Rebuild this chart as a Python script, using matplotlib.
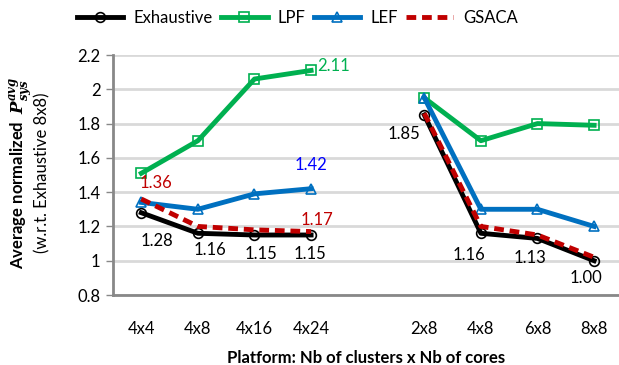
import numpy as np
import matplotlib
matplotlib.use('Agg')
import matplotlib.pyplot as plt

plt.rcParams['font.family'] = ['Lato', 'DejaVu Sans']
plt.rcParams['mathtext.fontset'] = 'custom'
plt.rcParams['mathtext.bf'] = 'DejaVu Serif:italic:bold'

platforms = ['4x4', '4x8', '4x16', '4x24', '', '2x8', '4x8', '6x8', '8x8']
exhaustive = [1.28, 1.16, 1.15, 1.15, np.nan, 1.85, 1.16, 1.13, 1.00]
lpf = [1.51, 1.70, 2.06, 2.11, np.nan, 1.95, 1.70, 1.80, 1.79]
lef = [1.34, 1.30, 1.39, 1.42, np.nan, 1.95, 1.30, 1.30, 1.20]
gsaca = [1.36, 1.20, 1.18, 1.17, np.nan, 1.86, 1.20, 1.15, 1.02]

# (index, series, value, dx px, dy px, colour)
labels = [
    (0, exhaustive, '1.28', 16, -28, 'black'),
    (1, exhaustive, '1.16', 12, -17, 'black'),
    (2, exhaustive, '1.15', 6, -19, 'black'),
    (3, exhaustive, '1.15', -1, -19, 'black'),
    (0, gsaca, '1.36', 15, 16, '#C00000'),
    (3, gsaca, '1.17', 6, 12, '#C00000'),
    (3, lef, '1.42', 0, 24, '#0000FF'),
    (5, exhaustive, '1.85', -20, -19, 'black'),
    (6, exhaustive, '1.16', -12, -22, 'black'),
    (7, exhaustive, '1.13', -8, -20, 'black'),
    (8, exhaustive, '1.00', -8, -17, 'black'),
]

x = np.arange(len(platforms))

fig = plt.figure(figsize=(6.19, 3.65), dpi=100)
ax = fig.add_axes([113/619, 70/365, 1 - 113/619, 240/365])

ax.plot(x, lpf, color='#00B050', lw=3.5, marker='s', ms=7, mfc='none', mew=1.2, label='LPF', zorder=3)
ax.plot(x, lef, color='#0070C0', lw=3.5, marker='^', ms=7, mfc='none', mew=1.2, label='LEF', zorder=4)
ax.plot(x, exhaustive, color='black', lw=3.5, marker='o', ms=7, mfc='none', mew=1.2, label='Exhaustive', zorder=5)
ax.plot(x, gsaca, color='#C00000', lw=3.5, ls=(0, (2, 1.2)), label='GSACA', zorder=6)

for i, s, txt, dx, dy, c in labels:
    ax.annotate(txt, (x[i], s[i]), xytext=(dx, dy), textcoords='offset pixels',
                ha='center', va='center', fontsize=12, color=c, zorder=7)
ax.annotate('2.11', (x[3], lpf[3]), xytext=(6, 4), textcoords='offset pixels',
            ha='left', va='center', fontsize=12, color='#00B050', zorder=7)

ax.set_ylim(0.8, 2.2)
ax.set_yticks(np.arange(0.8, 2.21, 0.2))
ax.set_yticklabels(['0.8', '1', '1.2', '1.4', '1.6', '1.8', '2', '2.2'])
ax.set_xlim(-0.5, 8.44)
tick_idx = [i for i in x if platforms[i]]
ax.set_xticks(tick_idx)
ax.set_xticklabels([platforms[i] for i in tick_idx])
ax.tick_params(axis='x', length=0, pad=19, labelsize=12)
ax.tick_params(axis='y', length=5, width=1, color='#888888', labelsize=12, pad=4)
ax.grid(axis='y', color='#D9D9D9', lw=2)
ax.set_axisbelow(True)
for sp in ['top', 'right']:
    ax.spines[sp].set_visible(False)
for sp in ['left', 'bottom']:
    ax.spines[sp].set_color('#888888')
    ax.spines[sp].set_linewidth(2)

ax.set_xlabel('Platform: Nb of clusters x Nb of cores', fontsize=12, fontweight='bold', labelpad=9)
fig.text(22/619, 0.5 + 10/365, r'Average normalized  $\mathbf{P_{sys}^{avg}}$', rotation=90,
         ha='center', va='center', fontsize=12, fontweight='bold')
fig.text(42/619, 0.5 + 10/365, '(w.r.t. Exhaustive 8x8)', rotation=90,
         ha='center', va='center', fontsize=12)

h, l = ax.get_legend_handles_labels()
order = [2, 0, 1, 3]
fig.legend([h[k] for k in order], [l[k] for k in order], loc='center', bbox_to_anchor=(0.48, 1 - 18/365),
           ncol=4, frameon=False, fontsize=12, handlelength=2.8, columnspacing=0.5, handletextpad=0.6)

fig.savefig('out.png', dpi=100)
